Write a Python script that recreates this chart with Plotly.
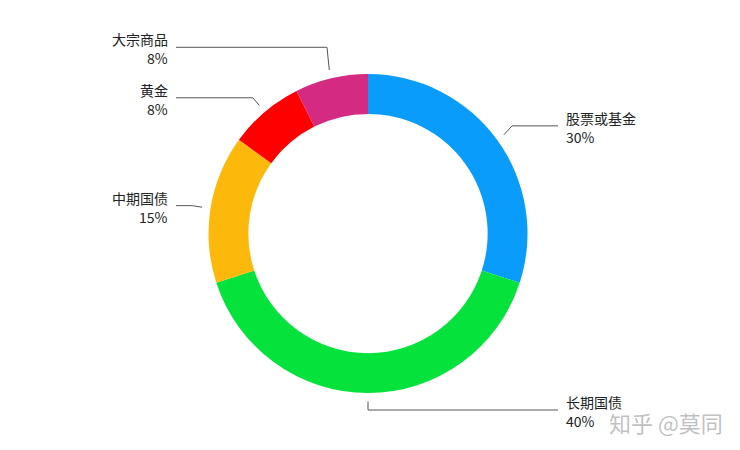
import math
import plotly.graph_objects as go

# ---- data ----
categories = ["股票或基金", "长期国债", "中期国债", "黄金", "大宗商品"]
shares = [30, 40, 15, 7.6, 7.4]          # slice sizes
pct_labels = ["30%", "40%", "15%", "8%", "8%"]  # labels as printed
colors = ["#0a9cfa", "#06e23c", "#fcb90b", "#fe0000", "#d42a82"]
watermark = "知乎 @莫同"

# ---- layout geometry (pixels) ----
W, H = 740, 450
CX, CY = 368, 233.5
R_OUT = 159.5
HOLE = 0.75
R_START, R_ELBOW = 168, 178
label_lift = [3, 1.5, 0, 0, 13]
RIGHT_LINE_END, RIGHT_TEXT_X = 558, 565
LEFT_LINE_END, LEFT_TEXT_X = 176, 169
FONT = "Noto Sans CJK SC"


def px(x):
    return x / W


def py(y):
    return 1 - y / H


fig = go.Figure(
    go.Pie(
        labels=categories,
        values=shares,
        hole=HOLE,
        sort=False,
        direction="clockwise",
        rotation=0,
        textinfo="none",
        showlegend=False,
        marker=dict(colors=colors, line=dict(width=0)),
        domain=dict(
            x=[px(CX - R_OUT), px(CX + R_OUT)],
            y=[py(CY + R_OUT), py(CY - R_OUT)],
        ),
    )
)

total = sum(shares)
cum = 0
shapes, annotations = [], []
line_style = dict(color="#555555", width=1)
for i, v in enumerate(shares):
    mid = math.radians((cum + v / 2) / total * 360)
    cum += v
    s, c = math.sin(mid), math.cos(mid)
    x1, y1 = CX + R_START * s, CY - R_START * c
    x2, y2 = CX + R_ELBOW * s, CY - R_ELBOW * c - label_lift[i]
    right = s >= -1e-6
    x3 = RIGHT_LINE_END if right else LEFT_LINE_END
    shapes.append(dict(type="line", xref="paper", yref="paper",
                       x0=px(x1), y0=py(y1), x1=px(x2), y1=py(y2), line=line_style))
    shapes.append(dict(type="line", xref="paper", yref="paper",
                       x0=px(x2), y0=py(y2), x1=px(x3), y1=py(y2), line=line_style))
    tx = RIGHT_TEXT_X if right else LEFT_TEXT_X
    anchor = "left" if right else "right"
    for txt, dy in ((categories[i], -8), (pct_labels[i], 11)):
        annotations.append(dict(
            text=txt, x=px(tx), y=py(y2 + dy), xref="paper", yref="paper",
            xanchor=anchor, yanchor="middle", showarrow=False, borderpad=0,
            font=dict(family=FONT, size=14, color="#222222"),
        ))

annotations.append(dict(
    text=watermark, x=px(608), y=py(422), xref="paper", yref="paper",
    xanchor="left", yanchor="middle", showarrow=False, borderpad=0,
    font=dict(family=FONT, size=22, color="rgba(150,150,150,0.6)"),
))

fig.update_layout(
    width=W, height=H,
    margin=dict(l=0, r=0, t=0, b=0),
    paper_bgcolor="white", plot_bgcolor="white",
    font=dict(family=FONT),
    shapes=shapes, annotations=annotations,
)

fig.write_html("out.html", config={"displayModeBar": False})

# remove the browser's default 8px page margin so the figure sits at (0, 0)
with open("out.html", encoding="utf-8") as f:
    html = f.read()
html = html.replace("<head>", "<head><style>html,body{margin:0;padding:0;overflow:hidden;}</style>", 1)
with open("out.html", "w", encoding="utf-8") as f:
    f.write(html)
